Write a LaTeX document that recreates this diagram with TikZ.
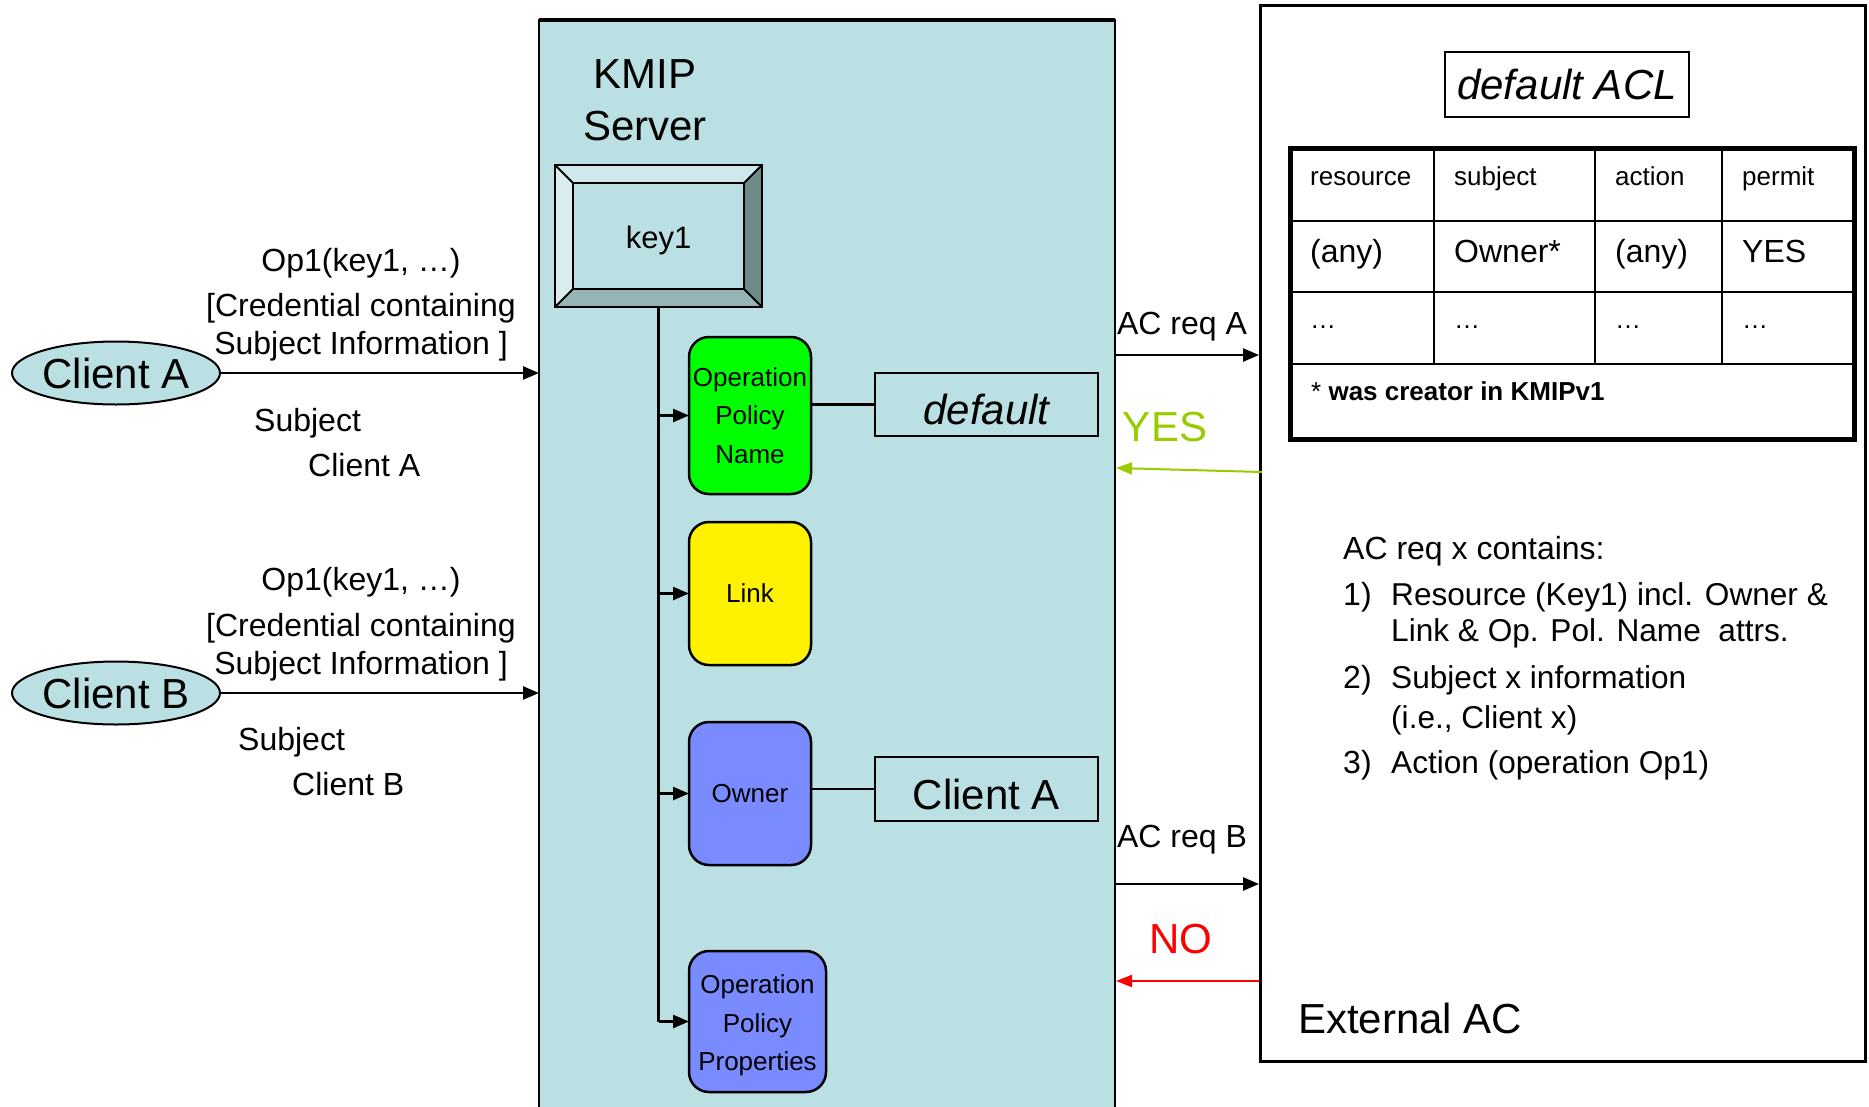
\documentclass[tikz,border=0pt]{standalone}
\usepackage{fontspec}
\setmainfont{Liberation Sans}
\usetikzlibrary{arrows.meta,shapes.geometric,calc}
\definecolor{kmip}{RGB}{187,224,227}
\definecolor{yesgreen}{RGB}{153,204,0}
\definecolor{ownerblue}{RGB}{122,138,255}
\definecolor{bvtop}{RGB}{206,232,235}
\definecolor{bvleft}{RGB}{218,238,240}
\definecolor{bvright}{RGB}{110,138,138}
\definecolor{bvbot}{RGB}{150,180,182}
\begin{document}
\begin{tikzpicture}[x=1pt,y=-1pt,
  conn/.style={line width=2.5pt},
  tri/.style={conn,-{Triangle[length=16pt,width=13pt]}},
  attrbox/.style={draw,line width=2.5pt,rounded corners=20pt,align=center,inner sep=0pt,outer sep=0pt,font=\fontsize{26}{38.5}\selectfont},
  valbox/.style={draw,line width=2.5pt,inner sep=0pt,outer sep=0pt,fill=kmip,minimum width=223pt},
  txt/.style={inner sep=0pt,font=\fontsize{32}{38}\selectfont},
  big/.style={inner sep=0pt,font=\fontsize{42}{50}\selectfont},
  small/.style={inner sep=0pt,font=\fontsize{26}{31}\selectfont},
  client/.style={ellipse,draw,line width=2pt,fill=kmip,minimum width=208pt,minimum height=63pt,inner sep=0pt,outer sep=0pt,font=\fontsize{42}{50}\selectfont},
]
\useasboundingbox (0,0) rectangle (1869,1106);
\clip (0,0) rectangle (1869,1106);
\fill[white] (0,0) rectangle (1869,1106);

% KMIP server box
\fill[kmip] (539,20) rectangle (1115,1112);
\draw[line width=2.5pt] (539,1112) -- (539,20) -- (1115,20) -- (1115,1112);
\draw[line width=3.5pt] (539,20) -- (1115,20);
\node[big,anchor=base] (kmiptitle) at (645,88) {KMIP};
\node[big,anchor=base] (servertitle) at (645,140) {Server};

% External AC box
\draw[line width=3pt] (1260,5) rectangle (1865,1061);

% key1 bevelled box
\node[draw,line width=2.5pt,fill=kmip,minimum width=207pt,minimum height=142pt,inner sep=0pt,outer sep=0pt] (key1) at (658.5,236) {};
\fill[bvtop] (key1.north west) -- (key1.north east) -- ($(key1.north east)+(-18,18)$) -- ($(key1.north west)+(18,18)$) -- cycle;
\fill[bvleft] (key1.north west) -- ($(key1.north west)+(18,18)$) -- ($(key1.south west)+(18,-18)$) -- (key1.south west) -- cycle;
\fill[bvright] (key1.north east) -- (key1.south east) -- ($(key1.south east)+(-18,-18)$) -- ($(key1.north east)+(-18,18)$) -- cycle;
\fill[bvbot] (key1.south west) -- (key1.south east) -- ($(key1.south east)+(-18,-18)$) -- ($(key1.south west)+(18,-18)$) -- cycle;
\draw[line width=2.5pt] (key1.north west) rectangle (key1.south east);
\draw[line width=2.5pt] ($(key1.north west)+(18,18)$) rectangle ($(key1.south east)+(-18,-18)$);
\draw[line width=2pt] (key1.north west) -- ++(18,18);
\draw[line width=2pt] (key1.north east) -- ++(-18,18);
\draw[line width=2pt] (key1.south west) -- ++(18,-18);
\draw[line width=2pt] (key1.south east) -- ++(-18,-18);
\node[inner sep=0pt,font=\fontsize{31}{37}\selectfont] (key1t) at ($(key1.center)+(0,4)$) {key1};

% attribute boxes
\node[attrbox,fill=green,minimum width=122pt,minimum height=157pt] (opn) at (750,415.5) {Operation\\Policy\\Name};
\node[attrbox,fill=yellow,minimum width=122pt,minimum height=143pt] (link) at (750,593.5) {Link};
\node[attrbox,fill=ownerblue,minimum width=122pt,minimum height=143pt] (owner) at (750,793.5) {Owner};
\node[attrbox,fill=ownerblue,minimum width=137pt,minimum height=141pt] (opp) at (757.5,1021.5) {};
\node[inner sep=0pt,align=center,font=\fontsize{26}{38.5}\selectfont] (oppt) at ($(opp.center)+(0,4)$) {Operation\\Policy\\Properties};

% value boxes
\node[valbox,minimum height=63pt] (defv) at (986.5,404.5) {};
\node[inner sep=0pt,anchor=base,font=\fontsize{42}{50}\selectfont\itshape] (defvt) at ($(defv.center)+(0,20)$) {default};
\node[valbox,minimum height=64pt] (ownv) at (986.5,789) {};
\node[inner sep=0pt,anchor=base,font=\fontsize{42}{50}\selectfont] (ownvt) at ($(ownv.center)+(0,20)$) {Client A};

% trunk and branches
\draw[conn] (key1.south) -- (key1.south |- opp.west);
\draw[tri] (key1.south |- opn.west) -- (opn.west);
\draw[tri] (key1.south |- link.west) -- (link.west);
\draw[tri] (key1.south |- owner.west) -- (owner.west);
\draw[tri] (key1.south |- opp.west) -- (opp.west);
\draw[conn] (opn.east |- defv.west) -- (defv.west);
\draw[conn] (owner.east |- ownv.west) -- (ownv.west);

% clients
\node[client] (ca) at (116,373) {Client A};
\node[client] (cb) at (116,693) {Client B};
\coordinate (kA) at (539,373);
\coordinate (kB) at (539,693);
\draw[tri] (ca.east) -- (kA);
\draw[tri] (cb.east) -- (kB);

\node[txt,anchor=base] (opA) at (361,271.5) {Op1(key1, …)};
\node[txt,anchor=base] (credA1) at (361,316.5) {[Credential containing};
\node[txt,anchor=base] (credA2) at (361,354.5) {Subject Information ]};
\node[txt,anchor=base west] (subjA) at (254,431.5) {Subject};
\node[txt,anchor=base west] (subjA2) at (308,476.5) {Client A};

\node[txt,anchor=base] (opB) at (361,590.5) {Op1(key1, …)};
\node[txt,anchor=base] (credB1) at (361,636.5) {[Credential containing};
\node[txt,anchor=base] (credB2) at (361,674.5) {Subject Information ]};
\node[txt,anchor=base west] (subjB) at (238,750.5) {Subject};
\node[txt,anchor=base west] (subjB2) at (292,795.5) {Client B};

% AC requests and answers
\coordinate (kR1) at (1115,355);
\coordinate (eL1) at (1259,355);
\draw[tri] (kR1) -- (eL1);
\node[txt,anchor=base] (reqA) at (1182,334.5) {AC req A};
\node[big,anchor=base,text=yesgreen] (yes) at (1165,441) {YES};
\coordinate (eY) at (1262,472);
\coordinate (kY) at (1116,468);
\draw[yesgreen,line width=2pt,-{Triangle[length=16pt,width=12pt]}] (eY) -- (kY);

\coordinate (kR2) at (1115,884);
\coordinate (eL2) at (1259,884);
\draw[tri] (kR2) -- (eL2);
\node[txt,anchor=base] (reqB) at (1182,847.5) {AC req B};
\node[big,anchor=base,text=red] (no) at (1181,953) {NO};
\coordinate (eN) at (1259,981);
\coordinate (kN) at (1116,981);
\draw[red,line width=2pt,-{Triangle[length=16pt,width=12pt]}] (eN) -- (kN);

% default ACL
\node[draw,line width=2pt,inner sep=0pt,minimum width=244pt,minimum height=65pt,font=\fontsize{42}{50}\selectfont\itshape] (acl) at (1567,84.5) {default ACL};

% table
\foreach \yy in {221,292,364} \draw[line width=2.5pt] (1290,\yy) -- (1854,\yy);
\foreach \xx in {1434,1595,1722} \draw[line width=2.5pt] (\xx,148) -- (\xx,364);
\draw[line width=5pt] (1290,148) rectangle (1854,439);
\node[small,anchor=base west] (h1) at (1310,185) {resource};
\node[small,anchor=base west] (h2) at (1454,185) {subject};
\node[small,anchor=base west] (h3) at (1615,185) {action};
\node[small,anchor=base west] (h4) at (1742,185) {permit};
\node[txt,anchor=base west] (r1) at (1310,262) {(any)};
\node[txt,anchor=base west] (r2) at (1454,262) {Owner*};
\node[txt,anchor=base west] (r3) at (1615,262) {(any)};
\node[txt,anchor=base west] (r4) at (1742,262) {YES};
\node[small,anchor=base west] (d1) at (1310,328) {…};
\node[small,anchor=base west] (d2) at (1454,328) {…};
\node[small,anchor=base west] (d3) at (1615,328) {…};
\node[small,anchor=base west] (d4) at (1742,328) {…};
\node[small,anchor=base west] (foot) at (1311,400) {* \textbf{was creator in KMIPv1}};

% explanation text
\node[txt,anchor=base west] (acx) at (1343,559) {AC req x contains:};
\node[txt,anchor=base west] (n1) at (1343,605.5) {1)};
\node[txt,anchor=base west,font=\fontsize{31.6}{38}\selectfont] (t1a) at (1391,605.5) {Resource (Key1) incl. Owner \&};
\node[txt,anchor=base west,font=\fontsize{31.6}{38}\selectfont] (t1b) at (1391,641.5) {Link \& Op. Pol. Name\ \ attrs.};
\node[txt,anchor=base west] (n2) at (1343,688.5) {2)};
\node[txt,anchor=base west,font=\fontsize{31.6}{38}\selectfont] (t2a) at (1391,688.5) {Subject x information};
\node[txt,anchor=base west,font=\fontsize{31.6}{38}\selectfont] (t2b) at (1391,728.5) {(i.e., Client x)};
\node[txt,anchor=base west] (n3) at (1343,773.5) {3)};
\node[txt,anchor=base west,font=\fontsize{31.6}{38}\selectfont] (t3) at (1391,773.5) {Action (operation Op1)};

\node[big,anchor=base west] (ext) at (1298,1033) {External AC};
\end{tikzpicture}
\end{document}
